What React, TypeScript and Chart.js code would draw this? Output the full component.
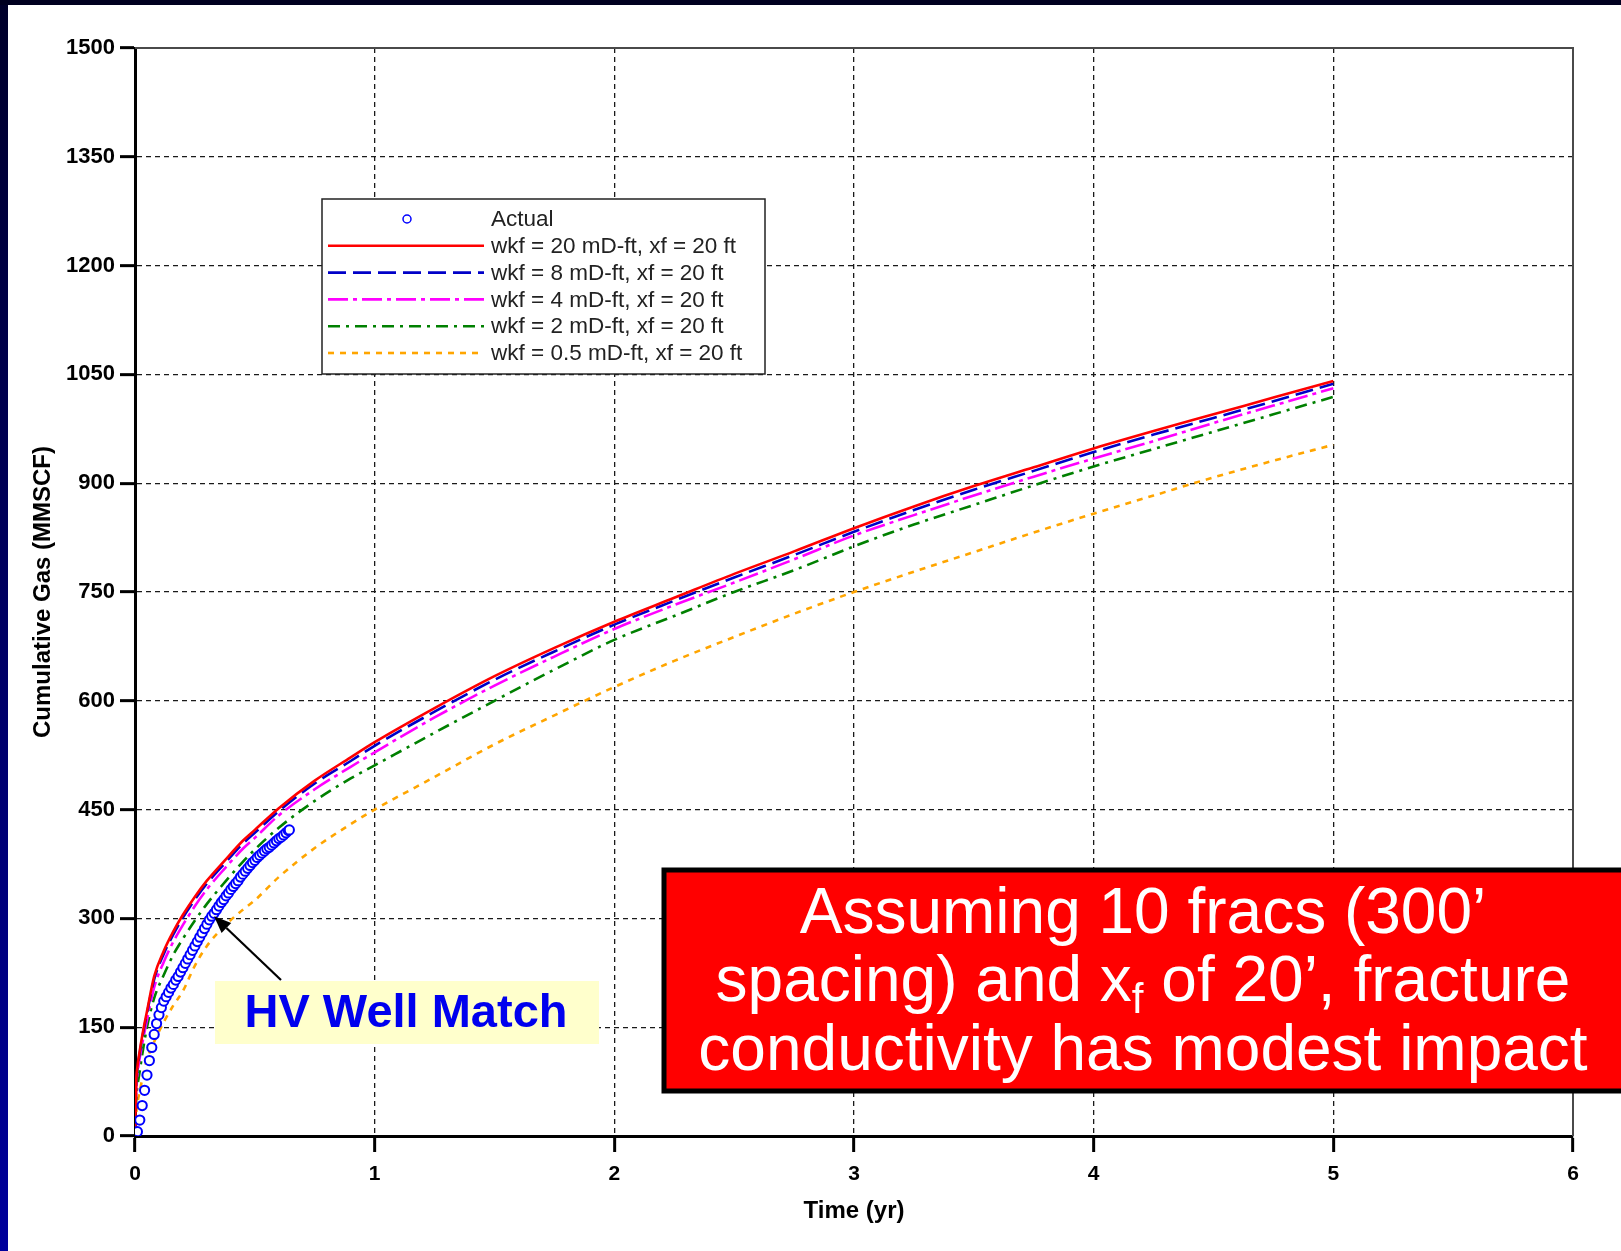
import React, { useEffect, useRef } from 'react';
import { Chart, registerables } from 'chart.js';

Chart.register(...registerables);

const W = 1621;
const H = 1251;
const FONT = '"Liberation Sans", Arial, Helvetica, sans-serif';

// ---- data ----
const MODEL_TIME = [0, 0.005, 0.01, 0.02, 0.03, 0.05, 0.08, 0.12, 0.16, 0.2, 0.25, 0.3, 0.375, 0.45, 0.5, 0.6, 0.75, 0.9, 1.0, 1.25, 1.5, 1.75, 2.0, 2.25, 2.5, 2.75, 3.0, 3.25, 3.5, 3.75, 4.0, 4.25, 4.5, 4.75, 5.0];
const WKF_20 = [0, 75, 95, 118, 138, 172, 220, 255, 282, 305, 330, 352, 380, 407, 422, 452, 490, 522, 543, 590, 634, 673, 709, 742, 775, 806, 838, 868, 896, 922, 948, 972, 995, 1018, 1041];
const WKF_8 = [0, 72, 92, 115, 135, 169, 216, 251, 278, 301, 326, 348, 376, 403, 418, 448, 486, 517, 538, 585, 629, 668, 705, 738, 770, 801, 833, 863, 891, 917, 943, 967, 990, 1013, 1037];
const WKF_4 = [0, 65, 85, 108, 127, 160, 205, 240, 268, 291, 317, 340, 369, 396, 411, 442, 478, 509, 529, 577, 621, 661, 699, 732, 763, 795, 828, 856, 883, 909, 934, 958, 983, 1007, 1031];
const WKF_2 = [0, 50, 68, 90, 112, 150, 190, 222, 250, 272, 297, 320, 350, 378, 395, 425, 462, 493, 511, 556, 600, 643, 684, 717, 750, 780, 813, 843, 870, 897, 923, 947, 971, 995, 1019];
const WKF_05 = [0, 30, 45, 62, 78, 105, 130, 157, 180, 200, 235, 262, 290, 312, 325, 357, 397, 430, 450, 495, 540, 580, 619, 655, 688, 720, 750, 778, 805, 832, 858, 883, 908, 931, 953];

const ACTUAL_TIME = [0.00, 0.01, 0.02, 0.03, 0.04, 0.05, 0.06, 0.07, 0.08, 0.09, 0.10, 0.11, 0.12, 0.13, 0.14, 0.15, 0.16, 0.17, 0.18, 0.19, 0.20, 0.21, 0.22, 0.23, 0.24, 0.25, 0.26, 0.27, 0.28, 0.29, 0.30, 0.31, 0.32, 0.33, 0.34, 0.35, 0.36, 0.37, 0.38, 0.39, 0.40, 0.41, 0.42, 0.43, 0.44, 0.45, 0.46, 0.47, 0.48, 0.49, 0.50, 0.51, 0.52, 0.53, 0.54, 0.55, 0.56, 0.57, 0.58, 0.59, 0.60, 0.61, 0.62, 0.63, 0.64, 0.644];
const ACTUAL_GAS = [0, 6, 22, 42, 63, 84, 104, 122, 140, 155, 167, 177, 186, 192, 198, 204, 209, 215, 220, 226, 232, 238, 244, 250, 256, 262, 268, 274, 280, 286, 292, 298, 303, 307, 312, 317, 322, 326, 331, 335, 340, 344, 348, 352, 357, 361, 365, 369, 373, 377, 380, 384, 387, 390, 393, 396, 398, 401, 404, 407, 410, 412, 415, 418, 421, 422];

const SERIES_LABELS = [
  'Actual',
  'wkf = 20 mD-ft, xf = 20 ft',
  'wkf = 8 mD-ft, xf = 20 ft',
  'wkf = 4 mD-ft, xf = 20 ft',
  'wkf = 2 mD-ft, xf = 20 ft',
  'wkf = 0.5 mD-ft, xf = 20 ft',
];

const X_MIN = 0;
const X_MAX = 6;
const X_STEP = 1;
const Y_MIN = 0;
const Y_MAX = 1500;
const Y_STEP = 150;

const X_TITLE = 'Time (yr)';
const Y_TITLE = 'Cumulative Gas (MMSCF)';
const MATCH_LABEL = 'HV Well Match';
const ARROW_TARGET = { t: 0.33, v: 303 };
const NOTE_LINE_1 = 'Assuming 10 fracs (300\u2019';
const NOTE_LINE_2 = ['spacing) and x', 'f', ' of 20\u2019, fracture'];
const NOTE_LINE_3 = 'conductivity has modest impact';

const pts = (xs: number[], ys: number[]) => xs.map((x, i) => ({ x, y: ys[i] }));

const edgeTransparent = (lo: number, hi: number) => (c: any) =>
  c.tick && (c.tick.value === lo || c.tick.value === hi) ? 'rgba(0,0,0,0)' : '#1a1a1a';

const decorPlugin = {
  id: 'decor',
  beforeDraw(chart: any) {
    const ctx = chart.ctx as CanvasRenderingContext2D;
    ctx.save();
    ctx.fillStyle = '#ffffff';
    ctx.fillRect(0, 0, W, H);
    const g = ctx.createLinearGradient(0, 0, 0, H);
    g.addColorStop(0, '#00002a');
    g.addColorStop(1, '#00009c');
    ctx.fillStyle = g;
    ctx.fillRect(0, 0, 8, H);
    ctx.fillStyle = '#000020';
    ctx.fillRect(0, 0, W, 5);
    ctx.restore();
  },
  afterDraw(chart: any) {
    const ctx = chart.ctx as CanvasRenderingContext2D;
    const { top, right, left, bottom } = chart.chartArea;
    const xs = chart.scales.x;
    const ys = chart.scales.y;
    ctx.save();

    // top / right frame
    ctx.strokeStyle = '#4a4a4a';
    ctx.lineWidth = 2;
    ctx.beginPath();
    ctx.moveTo(left, top);
    ctx.lineTo(right, top);
    ctx.lineTo(right, bottom);
    ctx.stroke();

    // legend
    const bx = 322, by = 199, bw = 443, bh = 175;
    ctx.fillStyle = '#ffffff';
    ctx.fillRect(bx, by, bw, bh);
    ctx.strokeStyle = '#222';
    ctx.lineWidth = 1.5;
    ctx.strokeRect(bx, by, bw, bh);
    ctx.font = `22.5px ${FONT}`;
    ctx.textBaseline = 'middle';
    ctx.textAlign = 'left';
    chart.data.datasets.forEach((ds: any, i: number) => {
      const yy = by + 20 + i * 26.8;
      if (i === 0) {
        ctx.beginPath();
        ctx.arc(407, yy, 4, 0, Math.PI * 2);
        ctx.strokeStyle = ds.pointBorderColor;
        ctx.lineWidth = 1.5;
        ctx.stroke();
      } else {
        ctx.beginPath();
        ctx.setLineDash(ds.borderDash || []);
        ctx.strokeStyle = ds.borderColor;
        ctx.lineWidth = ds.borderWidth;
        ctx.moveTo(328, yy);
        ctx.lineTo(484, yy);
        ctx.stroke();
        ctx.setLineDash([]);
      }
      ctx.fillStyle = '#222';
      ctx.fillText(ds.label, 491, yy + 1);
    });

    // HV Well Match box + arrow
    ctx.fillStyle = '#ffffcc';
    ctx.fillRect(215, 981, 384, 63);
    ctx.fillStyle = '#0000ee';
    ctx.font = `bold 47px ${FONT}`;
    ctx.textAlign = 'center';
    ctx.fillText(MATCH_LABEL, 406, 1014);

    const tipX = xs.getPixelForValue(ARROW_TARGET.t);
    const tipY = ys.getPixelForValue(ARROW_TARGET.v);
    const sx = 281, sy = 980;
    const ang = Math.atan2(tipY - sy, tipX - sx);
    const headLen = 17, headW = 7;
    const bxh = tipX - headLen * Math.cos(ang);
    const byh = tipY - headLen * Math.sin(ang);
    ctx.strokeStyle = '#000';
    ctx.lineWidth = 2.2;
    ctx.beginPath();
    ctx.moveTo(sx, sy);
    ctx.lineTo(bxh, byh);
    ctx.stroke();
    ctx.fillStyle = '#000';
    ctx.beginPath();
    ctx.moveTo(tipX, tipY);
    ctx.lineTo(bxh + headW * Math.sin(ang), byh - headW * Math.cos(ang));
    ctx.lineTo(bxh - headW * Math.sin(ang), byh + headW * Math.cos(ang));
    ctx.closePath();
    ctx.fill();

    // red note box
    const rx = 664, ry = 870, rw = W - rx + 10, rh = 221;
    ctx.fillStyle = '#ff0000';
    ctx.fillRect(rx, ry, rw, rh);
    ctx.strokeStyle = '#000';
    ctx.lineWidth = 5;
    ctx.strokeRect(rx, ry, rw, rh);
    const cx = 1143;
    ctx.fillStyle = '#ffffff';
    ctx.textAlign = 'center';
    ctx.textBaseline = 'alphabetic';
    ctx.font = `64px ${FONT}`;
    ctx.fillText(NOTE_LINE_1, cx, 933);
    ctx.fillText(NOTE_LINE_3, cx, 1070);
    // line 2 with subscript
    const bigFont = `64px ${FONT}`;
    const subFont = `42px ${FONT}`;
    ctx.font = bigFont;
    const w1 = ctx.measureText(NOTE_LINE_2[0]).width;
    const w3 = ctx.measureText(NOTE_LINE_2[2]).width;
    ctx.font = subFont;
    const w2 = ctx.measureText(NOTE_LINE_2[1]).width;
    let x0 = cx - (w1 + w2 + w3) / 2;
    ctx.textAlign = 'left';
    ctx.font = bigFont;
    ctx.fillText(NOTE_LINE_2[0], x0, 1001);
    x0 += w1;
    ctx.font = subFont;
    ctx.fillText(NOTE_LINE_2[1], x0, 1013);
    x0 += w2;
    ctx.font = bigFont;
    ctx.fillText(NOTE_LINE_2[2], x0, 1001);

    ctx.restore();
  },
};

export default function App() {
  const ref = useRef<HTMLCanvasElement | null>(null);

  useEffect(() => {
    if (!ref.current) return;
    const lineDs = (label: string, data: number[], color: string, dash: number[]) => ({
      label,
      data: pts(MODEL_TIME, data),
      borderColor: color,
      backgroundColor: color,
      borderWidth: 2.6,
      borderDash: dash,
      pointRadius: 0,
      fill: false,
      cubicInterpolationMode: 'monotone' as const,
    });

    const chart = new Chart(ref.current, {
      type: 'line',
      data: {
        datasets: [
          {
            label: SERIES_LABELS[0],
            data: pts(ACTUAL_TIME, ACTUAL_GAS),
            showLine: false,
            pointRadius: 4.6,
            pointBorderWidth: 2,
            pointBorderColor: '#0000ff',
            pointBackgroundColor: '#ffffff',
            borderColor: '#0000ff',
            backgroundColor: '#ffffff',
          } as any,
          lineDs(SERIES_LABELS[1], WKF_20, '#ff0000', []),
          lineDs(SERIES_LABELS[2], WKF_8, '#0000c8', [18, 7]),
          lineDs(SERIES_LABELS[3], WKF_4, '#ff00ff', [20, 5, 4, 5]),
          lineDs(SERIES_LABELS[4], WKF_2, '#008000', [12, 6, 3, 6]),
          lineDs(SERIES_LABELS[5], WKF_05, '#ffa500', [6, 6]),
        ],
      },
      options: {
        responsive: false,
        animation: false,
        devicePixelRatio: 1,
        layout: { padding: { top: 48, right: 48, left: 0, bottom: 0 } },
        plugins: { legend: { display: false }, tooltip: { enabled: false } },
        scales: {
          x: {
            type: 'linear',
            min: X_MIN,
            max: X_MAX,
            ticks: {
              stepSize: X_STEP,
              color: '#000',
              padding: 10,
              maxRotation: 0,
              font: { family: FONT, size: 21, weight: 'bold' },
              callback: (v: any) => String(v),
            },
            grid: {
              color: edgeTransparent(X_MIN, X_MAX),
              lineWidth: 1.3,
              tickLength: 16,
              tickColor: '#000',
              tickWidth: 3,
              tickBorderDash: [],
              borderDash: [5, 4],
            } as any,
            border: { display: true, color: '#000', width: 3, dash: [5, 4] },
            title: {
              display: true,
              text: X_TITLE,
              color: '#000',
              font: { family: FONT, size: 24, weight: 'bold' },
              padding: { top: 0, bottom: 25 },
            },
            afterFit: (s: any) => {
              s.height = 115;
            },
          },
          y: {
            type: 'linear',
            min: Y_MIN,
            max: Y_MAX,
            ticks: {
              stepSize: Y_STEP,
              color: '#000',
              padding: 5,
              font: { family: FONT, size: 22, weight: 'bold' },
              callback: (v: any) => String(v),
            },
            grid: {
              color: edgeTransparent(Y_MIN, Y_MAX),
              lineWidth: 1.3,
              tickLength: 15,
              tickColor: '#000',
              tickWidth: 3,
              tickBorderDash: [],
              borderDash: [5, 4],
            } as any,
            border: { display: true, color: '#000', width: 3, dash: [5, 4] },
            title: {
              display: true,
              text: Y_TITLE,
              color: '#000',
              font: { family: FONT, size: 24, weight: 'bold' },
              padding: { top: 29, bottom: 0 },
            },
            afterFit: (s: any) => {
              s.width = 135;
            },
          },
        },
      },
      plugins: [decorPlugin],
    });
    return () => chart.destroy();
  }, []);

  return (
    <div style={{ position: 'fixed', left: 0, top: 0, width: W, height: H, background: '#fff' }}>
      <canvas ref={ref} width={W} height={H} style={{ display: 'block', width: W, height: H }} />
    </div>
  );
}
